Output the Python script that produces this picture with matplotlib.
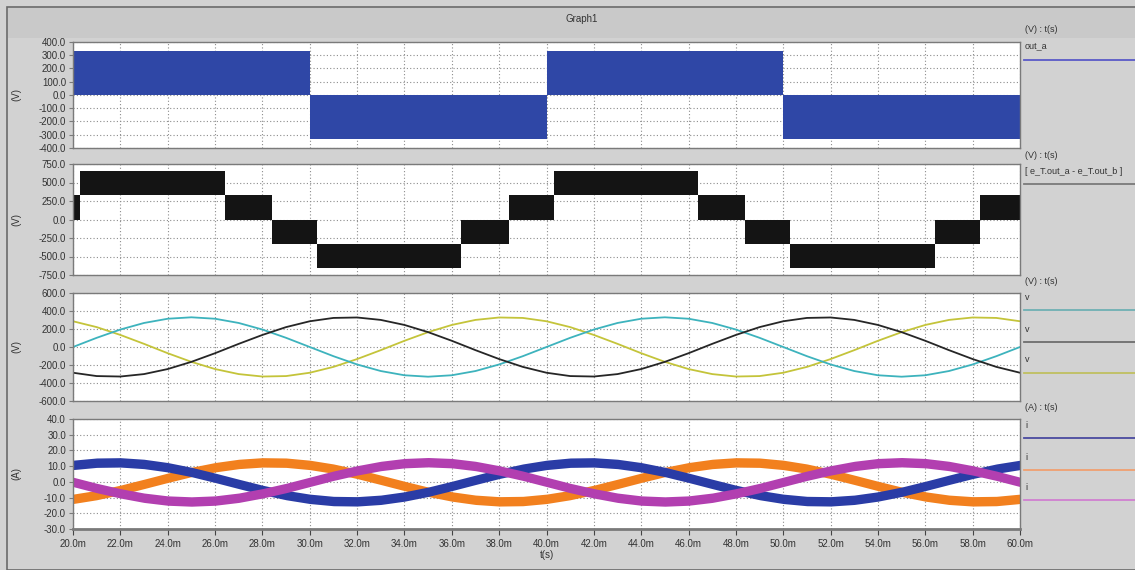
import matplotlib.pyplot as plt
from matplotlib.lines import Line2D
from matplotlib.patches import Rectangle
import numpy as np

plt.rcParams['font.family'] = ['Liberation Sans', 'DejaVu Sans']

# time grid of the sampled waveforms, ms
t_ms = list(range(20, 61))

# phase a output (PWM), switching edges in ms and the level of each segment, V
edges_a = [20.0, 30.0, 40.0, 50.0, 60.0]
level_a = [330, -330, 330, -330]

# line voltage out_a - out_b: edges, lower and upper bound of each block, V
edges_ab = [20.0, 20.3, 26.4, 28.4, 30.3, 36.4, 38.4, 40.3, 46.4, 48.4, 50.3, 56.4, 58.3, 60.0]
low_ab = [0, 325, 0, -325, -650, -325, 0, 325, 0, -325, -650, -325, 0]
high_ab = [325, 650, 325, 0, -325, 0, 325, 650, 325, 0, -325, 0, 325]

# filtered phase voltages, V
v_cyan = [0, 102, 194, 267, 314, 330, 314, 267, 194, 102, 0, -102, -194, -267, -314,
          -330, -314, -267, -194, -102, 0, 102, 194, 267, 314, 330, 314, 267, 194, 102,
          0, -102, -194, -267, -314, -330, -314, -267, -194, -102, 0]
v_black = [-286, -323, -328, -301, -245, -165, -69, 35, 134, 221, 286, 323, 328, 301, 245,
           165, 69, -35, -134, -221, -286, -323, -328, -301, -245, -165, -69, 35, 134, 221,
           286, 323, 328, 301, 245, 165, 69, -35, -134, -221, -286]
v_yellow = [286, 221, 134, 35, -69, -165, -245, -301, -328, -323, -286, -221, -134, -35, 69,
            165, 245, 301, 328, 323, 286, 221, 134, 35, -69, -165, -245, -301, -328, -323,
            -286, -221, -134, -35, 69, 165, 245, 301, 328, 323, 286]

# phase currents (centre of the ripple band), A
i_blue = [10.8, 12.2, 12.4, 11.4, 9.3, 6.3, 2.6, -1.3, -5.1, -8.4, -10.8, -12.2, -12.4, -11.4,
          -9.3, -6.3, -2.6, 1.3, 5.1, 8.4, 10.8, 12.2, 12.4, 11.4, 9.3, 6.3, 2.6, -1.3,
          -5.1, -8.4, -10.8, -12.2, -12.4, -11.4, -9.3, -6.3, -2.6, 1.3, 5.1, 8.4, 10.8]
i_orange = [-10.8, -8.4, -5.1, -1.3, 2.6, 6.3, 9.3, 11.4, 12.4, 12.2, 10.8, 8.4, 5.1, 1.3,
            -2.6, -6.3, -9.3, -11.4, -12.4, -12.2, -10.8, -8.4, -5.1, -1.3, 2.6, 6.3, 9.3,
            11.4, 12.4, 12.2, 10.8, 8.4, 5.1, 1.3, -2.6, -6.3, -9.3, -11.4, -12.4, -12.2, -10.8]
i_magenta = [0, -3.9, -7.3, -10.1, -11.9, -12.5, -11.9, -10.1, -7.3, -3.9, 0, 3.9, 7.3, 10.1,
             11.9, 12.5, 11.9, 10.1, 7.3, 3.9, 0, -3.9, -7.3, -10.1, -11.9, -12.5, -11.9,
             -10.1, -7.3, -3.9, 0, 3.9, 7.3, 10.1, 11.9, 12.5, 11.9, 10.1, 7.3, 3.9, 0]
ripple = 3.0

x_ticks = list(range(20, 62, 2))
y_ticks = [
    [400, 300, 200, 100, 0, -100, -200, -300, -400],
    [750, 500, 250, 0, -250, -500, -750],
    [600, 400, 200, 0, -200, -400, -600],
    [40, 30, 20, 10, 0, -10, -20, -30],
]
y_units = ['(V)', '(V)', '(V)', '(A)']

BG = '#d2d2d2'
FRAME = '#7a7a7a'

fig = plt.figure(figsize=(11.35, 5.70), dpi=100, facecolor=BG)

# window border and title strip
fig.patches.append(Rectangle((7 / 1135, 0.0), 1.0, 1 - 7 / 570, transform=fig.transFigure,
                             facecolor='none', edgecolor='#6a6a6a', lw=1.2))
fig.patches.append(Rectangle((8 / 1135, 1 - 38 / 570), 1.0, 30 / 570, transform=fig.transFigure,
                             facecolor='#c9c9c9', edgecolor='none'))
fig.text(582 / 1135, 1 - 19 / 570, 'Graph1', ha='center', va='center', fontsize=7, color='#333333')

# axes boxes: (top, bottom) in pixels
boxes = [(42, 148), (164, 275), (293, 401), (419, 529)]
left, right = 73, 1020
axes = []
for (top, bot), yt, unit in zip(boxes, y_ticks, y_units):
    ax = fig.add_axes([left / 1135, 1 - bot / 570, (right - left) / 1135, (bot - top) / 570])
    ax.set_facecolor('white')
    ax.set_xlim(20, 60)
    ax.set_ylim(min(yt), max(yt))
    ax.set_yticks(yt)
    ax.set_yticklabels([f'{v:.1f}' for v in yt], fontsize=7, color='#333333')
    ax.set_xticks(x_ticks)
    ax.grid(True, ls=(0, (1, 2)), color='#8c8c8c', lw=0.8)
    ax.set_axisbelow(True)
    for s in ax.spines.values():
        s.set_color(FRAME)
        s.set_linewidth(1.0)
    ax.tick_params(axis='y', length=3, width=0.8, color=FRAME, pad=2)
    ax.tick_params(axis='x', bottom=False, labelbottom=False)
    ax.set_ylabel(unit, fontsize=7, color='#333333', labelpad=4)
    ax.yaxis.set_label_coords(-0.055, 0.5)
    axes.append(ax)

ax1, ax2, ax3, ax4 = axes

# phase a PWM output
ax1.fill_between(edges_a, 0, level_a + [level_a[-1]], step='post', color='#2f47a6', lw=0)

# line voltage blocks
ax2.fill_between(edges_ab, low_ab + [low_ab[-1]], high_ab + [high_ab[-1]], step='post',
                 color='#141414', lw=0)

# phase voltages
ax3.plot(t_ms, v_yellow, color='#c4c43a', lw=1.3)
ax3.plot(t_ms, v_cyan, color='#3db3bd', lw=1.3)
ax3.plot(t_ms, v_black, color='#262626', lw=1.3)

# phase currents drawn as ripple bands
for vals, col in [(i_orange, '#f2801e'), (i_blue, '#2a3ca6'), (i_magenta, '#b23fb0')]:
    v = np.array(vals)
    ax4.fill_between(t_ms, v - ripple, v + ripple, color=col, lw=0)

ax4.tick_params(axis='x', bottom=True, labelbottom=True, length=4, width=0.8, color='#444444',
                labelsize=7, labelcolor='#333333', pad=3)
ax4.set_xticklabels([f'{v:.1f}m' for v in x_ticks])
ax4.spines['bottom'].set_linewidth(2.0)
ax4.set_xlabel('t(s)', fontsize=7, color='#333333', labelpad=1)

# legend column on the right
def legend_line(y_px, color):
    fig.add_artist(Line2D([1024 / 1135, 1.0], [1 - y_px / 570] * 2, color=color, lw=1.3,
                          transform=fig.transFigure))


def legend_text(y_px, s):
    fig.text(1025 / 1135, 1 - y_px / 570, s, ha='left', va='center', fontsize=6.5, color='#333333')


legend_text(29, '(V) : t(s)')
legend_text(46, 'out_a')
legend_line(60, '#5a5ac8')

legend_text(156, '(V) : t(s)')
legend_text(171, '[ e_T.out_a - e_T.out_b ]')
legend_line(184, '#7a7a7a')

legend_text(282, '(V) : t(s)')
legend_text(298, 'v')
legend_line(310, '#6fb0b4')
legend_text(329, 'v')
legend_line(342, '#6e6e6e')
legend_text(359, 'v')
legend_line(373, '#c0c060')

legend_text(408, '(A) : t(s)')
legend_text(425, 'i')
legend_line(438, '#4a4aa0')
legend_text(457, 'i')
legend_line(470, '#f0a070')
legend_text(487, 'i')
legend_line(500, '#d080d0')

fig.savefig('out.png', dpi=100, facecolor=BG)
